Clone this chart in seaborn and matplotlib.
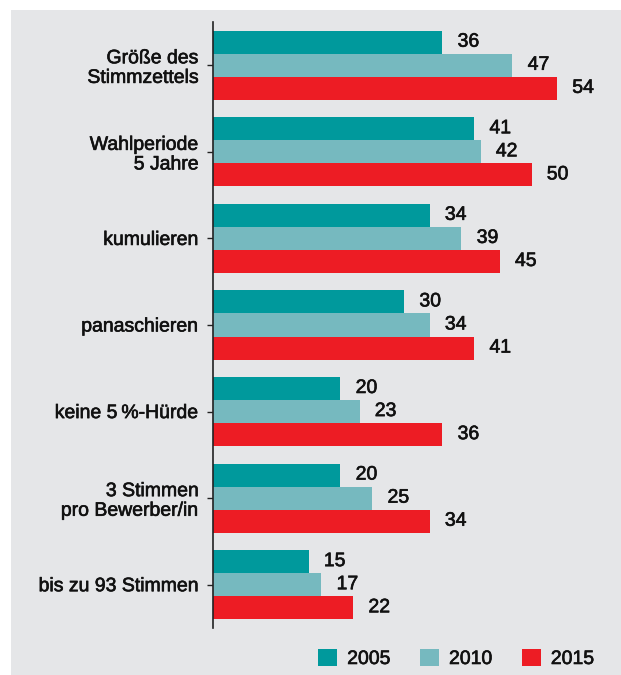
import pandas as pd
import matplotlib
matplotlib.use("Agg")
import matplotlib.pyplot as plt
import matplotlib.patheffects as pe
from matplotlib.patches import Rectangle, Patch
import seaborn as sns

# data
categories = ["Größe des\nStimmzettels", "Wahlperiode\n5 Jahre", "kumulieren",
              "panaschieren", "keine 5\u2009%-Hürde", "3 Stimmen\npro Bewerber/in",
              "bis zu 93 Stimmen"]
years = ["2005", "2010", "2015"]
values_2005 = [36, 41, 34, 30, 20, 20, 15]
values_2010 = [47, 42, 39, 34, 23, 25, 17]
values_2015 = [54, 50, 45, 41, 36, 34, 22]
colors = ["#00999c", "#76b9bf", "#ed1c24"]

df = pd.DataFrame({
    "category": categories * 3,
    "year": [years[0]] * 7 + [years[1]] * 7 + [years[2]] * 7,
    "value": values_2005 + values_2010 + values_2015,
})

sns.set_style("white")
plt.rcParams["font.family"] = ["Liberation Sans", "DejaVu Sans"]
bg = "#e5e6e8"
txt = "#111111"
# slightly heavier text, like the medium grotesque in the original
heavy = [pe.withStroke(linewidth=0.45, foreground=txt)]

fig = plt.figure(figsize=(6.21, 6.75), dpi=100, facecolor="white")
fig.patches.append(Rectangle((11 / 621, 0), 1 - 11 / 621, 1 - 10 / 675,
                             transform=fig.transFigure, facecolor=bg,
                             edgecolor="none", zorder=-10))

ax = fig.add_axes([213 / 621, 47 / 675, (621 - 213) / 621, (628 - 22) / 675])
ax.set_facecolor("none")

sns.barplot(data=df, y="category", x="value", hue="year", palette=colors,
            orient="h", width=0.8, linewidth=0, saturation=1, ax=ax,
            legend=False)

for cont in ax.containers:
    labels = ax.bar_label(cont, padding=11, fontsize=14, color=txt)
    for t in labels:
        t.set_path_effects(heavy)

ax.set_xlim(0, 64.05)
ax.set_ylim(6.5, -0.5)
ax.set_xlabel("")
ax.set_ylabel("")
ax.set_xticks([])
for s in ["top", "right", "bottom"]:
    ax.spines[s].set_visible(False)
ax.spines["left"].set_color("#222222")
ax.spines["left"].set_linewidth(1.2)
ax.tick_params(axis="y", length=4, width=1, color="#222222", pad=6,
               labelsize=14, labelcolor=txt, left=True)
for t in ax.get_yticklabels():
    t.set_path_effects(heavy)

handles = [Patch(facecolor=c, edgecolor="none") for c in colors]
leg = fig.legend(handles, years, loc="lower left",
                 bbox_to_anchor=(318 / 621, 7 / 675), ncol=3, frameon=False,
                 fontsize=14, handlelength=1.0, handleheight=1.0,
                 handletextpad=0.5, columnspacing=1.5, borderpad=0,
                 borderaxespad=0)
for t in leg.get_texts():
    t.set_color(txt)
    t.set_path_effects(heavy)

fig.savefig("out.png", dpi=100, facecolor="white")
